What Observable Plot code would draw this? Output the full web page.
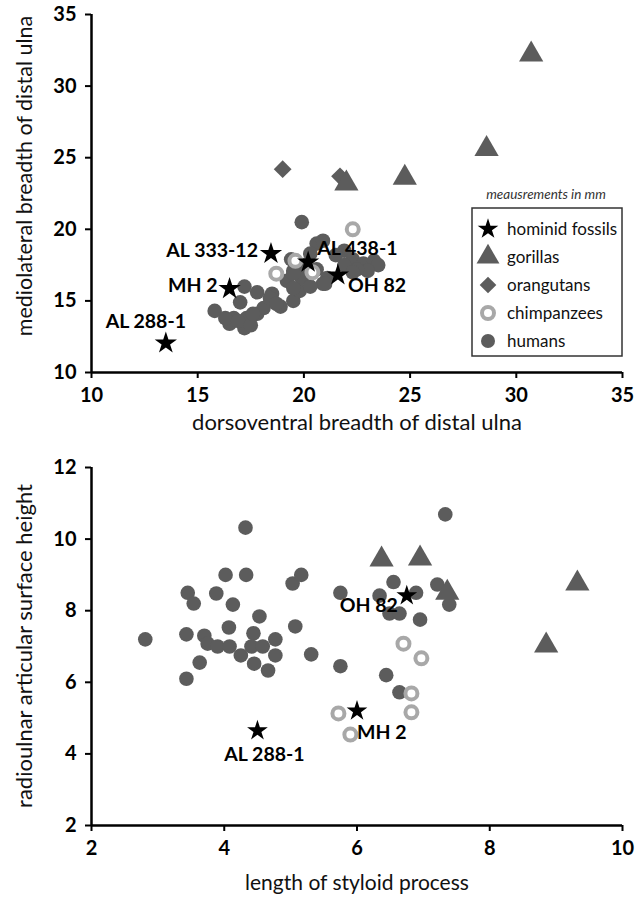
<!DOCTYPE html>
<html><head><meta charset="utf-8">
<script src="https://cdn.jsdelivr.net/npm/d3@7"></script>
<script src="https://cdn.jsdelivr.net/npm/@observablehq/plot@0.6"></script>
<style>
body{margin:0;background:#fff;font-family:Lato,sans-serif;}
#wrap{position:relative;width:635px;height:898px;overflow:hidden;}
#wrap svg{display:block;}
#overlay{position:absolute;left:0;top:0;pointer-events:none;}
</style></head><body><div id="wrap"></div>
<script>
// ---------- Top panel data (mm) ----------
const topFossilNames = ["AL 288-1","MH 2","AL 333-12","AL 438-1","OH 82"];
const topFossilDV = [13.5,16.5,18.45,20.2,21.6];
const topFossilML = [12.05,15.85,18.3,17.7,16.8];
const topGorillaDV = [22.0,24.75,28.6,30.7];
const topGorillaML = [23.2,23.6,25.6,32.2];
const topOrangDV = [19.0,21.7];
const topOrangML = [24.2,23.7];
const topChimpDV = [18.7,19.6,20.4,22.3];
const topChimpML = [16.9,17.8,17.0,20.0];
const topHumanDV = [19.9,15.8,16.7,16.5,17.2,17.3,17.8,18.1,17.2,17.8,17.0,18.5,18.9,19.2,19.5,19.8,19.9,19.4,20.6,20.0,19.5,20.9,21.9,22.3,22.8,23.3,23.5,23.0,22.5,21.1,20.9,19.5,19.5,18.4,18.7,21.5,21.9,22.3,16.3,16.9,17.5,17.6,20.3,20.6,20.3,21.0];
const topHumanML = [20.5,14.3,13.8,13.4,13.1,13.8,14.1,14.5,16.0,15.6,14.9,15.5,14.6,16.4,15.0,15.7,16.6,17.9,19.0,17.5,17.1,19.2,18.5,17.9,17.6,17.8,17.5,17.1,17.2,16.6,16.2,16.9,15.9,15.2,14.8,18.2,17.5,17.0,13.8,13.6,13.3,14.1,18.3,17.2,16.0,16.2];
const topXTicks = [10,15,20,25,30,35];
const topYTicks = [10,15,20,25,30,35];
const topXTitle = "dorsoventral breadth of distal ulna";
const topYTitle = "mediolateral breadth of distal ulna";

// ---------- Bottom panel data (mm) ----------
const botFossilNames = ["AL 288-1","MH 2","OH 82"];
const botFossilSL = [4.5,6.0,6.75];
const botFossilRA = [4.65,5.2,8.42];
const botGorillaSL = [6.37,6.95,7.36,8.85,9.32];
const botGorillaRA = [9.43,9.46,8.5,7.03,8.76];
const botChimpSL = [6.7,6.97,6.82,6.82,5.72,5.9];
const botChimpRA = [7.08,6.67,5.69,5.16,5.13,4.54];
const botHumanSL = [4.32,4.02,4.33,3.45,3.54,3.88,4.13,4.53,5.03,5.16,5.07,4.07,2.81,3.43,3.70,3.75,3.90,4.08,4.25,4.44,4.41,4.58,4.77,4.77,5.31,3.63,4.45,4.66,3.43,7.33,5.75,6.55,6.34,6.89,7.21,7.39,6.49,6.64,6.95,5.75,6.44,6.64];
const botHumanRA = [10.32,9.0,9.0,8.5,8.2,8.48,8.17,7.84,8.76,9.0,7.56,7.53,7.2,7.34,7.3,7.08,7.0,7.0,6.75,7.37,7.0,7.0,7.2,6.75,6.78,6.55,6.52,6.33,6.1,10.69,8.5,8.8,8.42,8.5,8.73,8.17,7.92,7.92,7.75,6.45,6.2,5.72];
const botXTicks = [2,4,6,8,10];
const botYTicks = [2,4,6,8,10,12];
const botXTitle = "length of styloid process";
const botYTitle = "radioulnar articular surface height";

const legendTitle = "meausrements in mm";
const legendNames = ["hominid fossils","gorillas","orangutans","chimpanzees","humans"];

// ---------- styles ----------
const FONT = "Lato, 'Open Sans', sans-serif";
const DARK = "#5c5c5c", LIGHT = "#a8a8a8";
const sty = {
  fossil: {symbol:"star", fill:"#000", stroke:"none"},
  gorilla: {symbol:"triangle", r:9, fill:DARK, stroke:"none"},
  orang: {symbol:"diamond2", r:8, fill:DARK, stroke:"none"},
  chimp: {r:6, fill:"#fff", stroke:LIGHT, strokeWidth:4},
  human: {r:7.3, fill:DARK, stroke:"none"}
};
const topLabelPos = {
  "AL 288-1": {textAnchor:"middle", dx:-20, dy:-21},
  "MH 2": {textAnchor:"end", dx:-12, dy:-3},
  "AL 333-12": {textAnchor:"end", dx:-13, dy:-3},
  "AL 438-1": {textAnchor:"start", dx:9, dy:-13},
  "OH 82": {textAnchor:"start", dx:10, dy:11}
};
const botLabelPos = {
  "AL 288-1": {textAnchor:"middle", dx:7, dy:24},
  "MH 2": {textAnchor:"start", dx:0, dy:22},
  "OH 82": {textAnchor:"end", dx:-9, dy:10}
};

const zip = (xs, ys, extra) => xs.map((x,i) => ({x, y: ys[i], ...(extra ? {name: extra[i]} : {})}));

function panel({height, mt, mb, xDomain, yDomain, xTicks, yTicks,
                humans, chimps, orangs, gorillas, fossils, labelPos, starR}) {
  const tickOpts = {tickSize:6, strokeWidth:2, fontWeight:"bold", fontSize:20, label:null};
  return Plot.plot({
    width: 635, height, marginLeft: 91, marginRight: 13, marginTop: mt, marginBottom: mb,
    style: {fontFamily: FONT, fontSize:"20px", background:"#fff", color:"#000", overflow:"visible"},
    x: {domain: xDomain},
    y: {domain: yDomain},
    marks: [
      Plot.axisX({...tickOpts, tickPadding:9, ticks: xTicks, tickFormat: d => String(d)}),
      Plot.axisY({...tickOpts, tickPadding:9, ticks: yTicks, tickFormat: d => String(d)}),
      Plot.ruleX([xDomain[0]], {stroke:"#000", strokeWidth:2.5}),
      Plot.ruleY([yDomain[0]], {stroke:"#000", strokeWidth:2.5}),
      Plot.dot(humans, {x:"x", y:"y", ...sty.human}),
      Plot.dot(chimps, {x:"x", y:"y", ...sty.chimp}),
      orangs ? Plot.dot(orangs, {x:"x", y:"y", ...sty.orang}) : null,
      Plot.dot(gorillas, {x:"x", y:"y", ...sty.gorilla}),
      Plot.dot(fossils, {x:"x", y:"y", ...sty.fossil, r: starR}),
      ...fossils.map(f => Plot.text([f], {x:"x", y:"y", text:"name", fontWeight:"bold", fontSize:19.5,
          fill:"#000", ...labelPos[f.name]}))
    ].filter(Boolean)
  });
}

const wrap = document.getElementById("wrap");
wrap.appendChild(panel({
  height:430, mt:14, mb:58, xDomain:[10,35], yDomain:[10,35], xTicks:topXTicks, yTicks:topYTicks,
  humans: zip(topHumanDV, topHumanML), chimps: zip(topChimpDV, topChimpML),
  orangs: zip(topOrangDV, topOrangML), gorillas: zip(topGorillaDV, topGorillaML),
  fossils: zip(topFossilDV, topFossilML, topFossilNames), labelPos: topLabelPos, starR:7
}));
wrap.appendChild(panel({
  height:468, mt:37, mb:73, xDomain:[2,10], yDomain:[2,12], xTicks:botXTicks, yTicks:botYTicks,
  humans: zip(botHumanSL, botHumanRA), chimps: zip(botChimpSL, botChimpRA),
  orangs: null, gorillas: zip(botGorillaSL, botGorillaRA),
  fossils: zip(botFossilSL, botFossilRA, botFossilNames), labelPos: botLabelPos, starR:6.5
}));

// ---------- overlay: axis titles + legend ----------
const ov = d3.select(wrap).append("svg").attr("id","overlay").attr("width",635).attr("height",898)
  .attr("font-family", FONT);
function xTitle(t, y, fs) {
  ov.append("text").attr("x",357).attr("y",y).attr("text-anchor","middle")
    .attr("font-size",fs).attr("fill","#111").text(t);
}
function yTitle(t, x, cy, fs) {
  ov.append("text").attr("transform",`translate(${x},${cy}) rotate(-90)`).attr("text-anchor","middle")
    .attr("font-size",fs).attr("fill","#111").text(t);
}
xTitle(topXTitle, 430, 22);
yTitle(topYTitle, 32, 176, 21.5);
xTitle(botXTitle, 890, 21);
yTitle(botYTitle, 32, 646, 22);

ov.append("text").attr("x",546).attr("y",199).attr("text-anchor","middle").attr("font-style","italic")
  .attr("font-size",13.5).attr("fill","#333").text(legendTitle);
ov.append("rect").attr("x",472).attr("y",208).attr("width",150).attr("height",148)
  .attr("fill","#fff").attr("stroke","#333").attr("stroke-width",1.5);
const legSyms = [
  {shape:d3.symbolStar, r:6.5, fill:"#000"},
  {shape:d3.symbolTriangle, r:8.5, fill:DARK},
  {shape:d3.symbolDiamond2, r:7.5, fill:DARK},
  {ring:true},
  {circle:true}
];
legendNames.forEach((name, i) => {
  const cy = 229 + i * 28, cx = 488;
  const s = legSyms[i];
  if (s.ring) {
    ov.append("circle").attr("cx",cx).attr("cy",cy).attr("r",6).attr("fill","#fff").attr("stroke",LIGHT).attr("stroke-width",4);
  } else if (s.circle) {
    ov.append("circle").attr("cx",cx).attr("cy",cy).attr("r",7).attr("fill",DARK);
  } else {
    ov.append("path").attr("transform",`translate(${cx},${cy})`)
      .attr("d", d3.symbol(s.shape, s.r*s.r*Math.PI)()).attr("fill",s.fill);
  }
  ov.append("text").attr("x",507).attr("y",cy).attr("dy","0.35em").attr("font-size",17).attr("fill","#111").text(name);
});
</script></body></html>
